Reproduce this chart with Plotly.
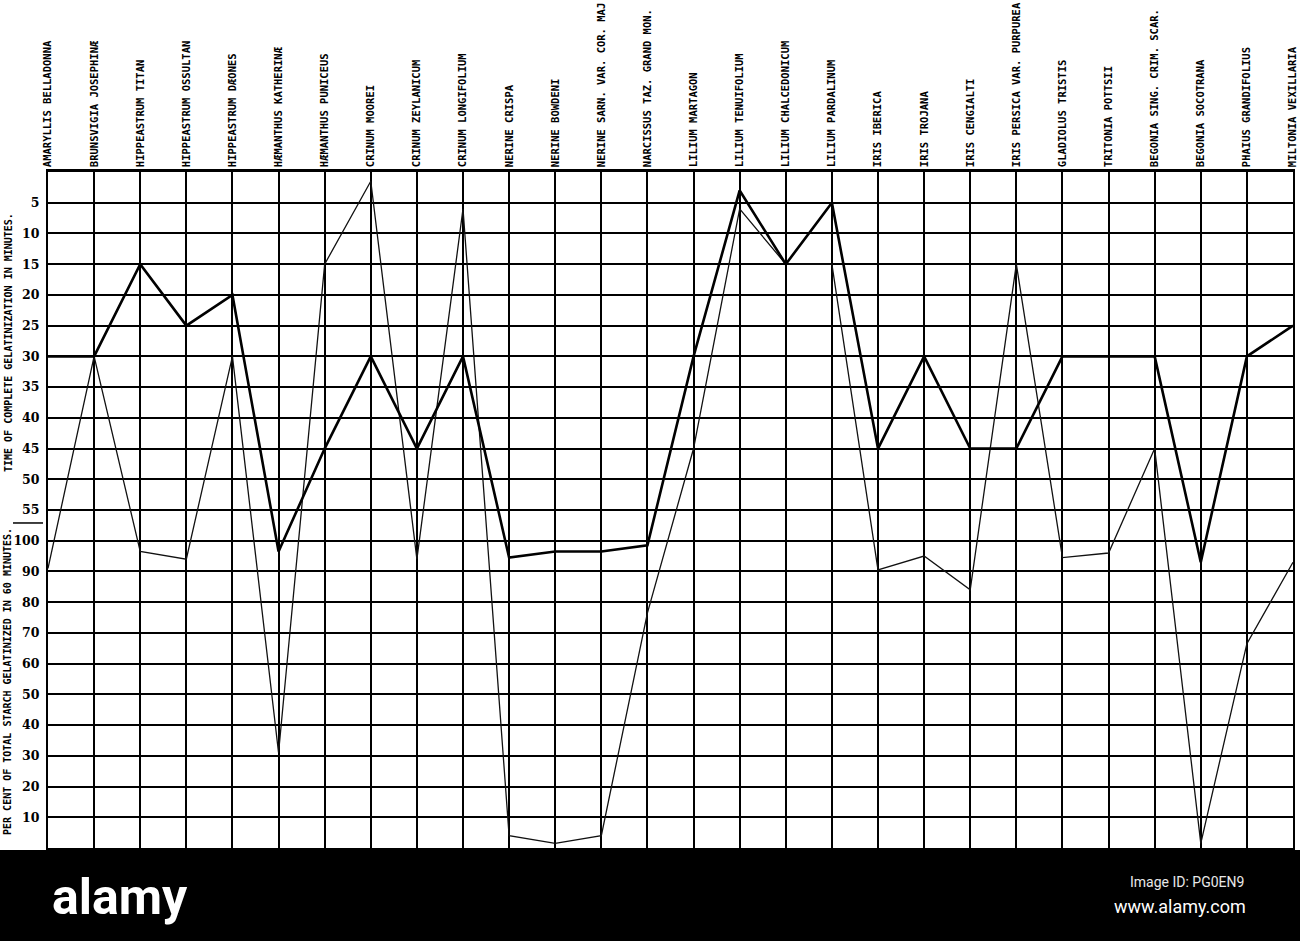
import plotly.graph_objects as go

species = [
    "AMARYLLIS BELLADONNA", "BRUNSVIGIA JOSEPHINÆ", "HIPPEASTRUM TITAN",
    "HIPPEASTRUM OSSULTAN", "HIPPEASTRUM DÆONES", "HÆMANTHUS KATHERINÆ",
    "HÆMANTHUS PUNICEUS", "CRINUM MOOREI", "CRINUM ZEYLANICUM",
    "CRINUM LONGIFOLIUM", "NERINE CRISPA", "NERINE BOWDENI",
    "NERINE SARN. VAR. COR. MAJ", "NARCISSUS TAZ. GRAND MON.", "LILIUM MARTAGON",
    "LILIUM TENUIFOLIUM", "LILIUM CHALCEDONICUM", "LILIUM PARDALINUM",
    "IRIS IBERICA", "IRIS TROJANA", "IRIS CENGIALTI",
    "IRIS PERSICA VAR. PURPUREA", "GLADIOLUS TRISTIS", "TRITONIA POTTSII",
    "BEGONIA SING. CRIM. SCAR.", "BEGONIA SOCOTRANA", "PHAIUS GRANDIFOLIUS",
    "MILTONIA VEXILLARIA",
]

# Heavy curve: minutes to complete gelatinization, or per cent gelatinized in 60 min
heavy_minutes = [30, 30, 15, 25, 20, None, 45, 30, 45, 30, None, None, None, None,
                 30, 3, 15, 5, 45, 30, 45, 45, 30, 30, 30, None, 30, 25]
heavy_percent = [None, None, None, None, None, 96.5, None, None, None, None, 94.5, 96.5, 96.5, 98.5,
                 None, None, None, None, None, None, None, None, None, None, None, 93, None, None]

# Light curve
light_minutes = [None, 30, None, None, 30, None, 15, 1.5, None, 6, None, None, None, None,
                 45, 6, 15, 15, None, None, None, 15, None, None, 45, None, None, None]
light_percent = [91, None, 96.5, 94, None, 31, None, None, 94, None, 4, 1.5, 4, 76.5,
                 None, None, None, None, 90.5, 95, 84, None, 94.5, 96, None, 1.5, 66.5, 93]

minute_ticks = [5, 10, 15, 20, 25, 30, 35, 40, 45, 50, 55]
percent_ticks = [100, 90, 80, 70, 60, 50, 40, 30, 20, 10]

# Combined scale of the original sheet: one grid row = 5 minutes (top part),
# one grid row = 10 per cent (bottom part), the 100 % row sits one row below 55 min.
MIN_PER_ROW = 5
PCT_PER_ROW = 10
PCT_100_ROW = 12
TOTAL_ROWS = 22


def sheet_y(minutes=None, percent=None):
    if minutes is not None:
        return minutes / MIN_PER_ROW
    return PCT_100_ROW + (100 - percent) / PCT_PER_ROW


def curve(mins, pcts):
    return [sheet_y(m, p) for m, p in zip(mins, pcts)]


fig = go.Figure()
fig.add_trace(go.Scatter(x=species, y=curve(light_minutes, light_percent), mode="lines",
                         line=dict(color="#111", width=1.3), showlegend=False))
fig.add_trace(go.Scatter(x=species, y=curve(heavy_minutes, heavy_percent), mode="lines",
                         line=dict(color="#000", width=2.6), showlegend=False))

tickvals = [sheet_y(minutes=m) for m in minute_ticks] + [sheet_y(percent=p) for p in percent_ticks]
ticktext = [str(m) for m in minute_ticks] + [str(p) for p in percent_ticks]

mono = "DejaVu Sans Mono"

fig.update_layout(
    width=1300, height=941,
    margin=dict(l=48, r=7, t=172, b=93),
    paper_bgcolor="white", plot_bgcolor="white",
    xaxis=dict(
        type="category", range=[0, len(species) - 1], side="top", tickangle=-90,
        showgrid=True, gridcolor="black", gridwidth=2,
        showline=True, mirror=True, linecolor="black", linewidth=2.5,
        ticks="", zeroline=False, automargin=False,
        tickfont=dict(family=mono, size=10.5, color="black", weight="bold"),
    ),
    yaxis=dict(
        range=[TOTAL_ROWS, 0], tickvals=tickvals, ticktext=ticktext,
        showgrid=True, gridcolor="black", gridwidth=2,
        showline=True, mirror=True, linecolor="black", linewidth=2,
        ticks="", zeroline=False, ticklabelstandoff=4, automargin=False,
        tickfont=dict(family="DejaVu Serif", size=12.5, color="black", weight="bold"),
    ),
    shapes=[
        dict(type="line", xref="paper", yref="paper", x0=-0.0281, x1=-0.004,
             y0=0.4808, y1=0.4808, line=dict(color="black", width=1.5)),
        dict(type="rect", xref="paper", yref="paper", x0=-0.05, x1=1.01,
             y0=-0.2, y1=-0.003, fillcolor="black", line=dict(width=0), layer="above"),
    ],
    annotations=[
        dict(text="TIME OF COMPLETE GELATINIZATION IN MINUTES.", xref="paper", yref="paper",
             x=0, y=0.747, xshift=-40, xanchor="center", yanchor="middle",
             textangle=-90, showarrow=False,
             font=dict(family=mono, size=10, color="black", weight="bold")),
        dict(text="PER CENT OF TOTAL STARCH GELATINIZED IN 60 MINUTES.", xref="paper", yref="paper",
             x=0, y=0.2456, xshift=-40, xanchor="center", yanchor="middle",
             textangle=-90, showarrow=False,
             font=dict(family=mono, size=10, color="black", weight="bold")),
        dict(text="alamy", xref="paper", yref="paper", x=0.0016, y=-0.0725,
             xanchor="left", yanchor="middle", showarrow=False,
             font=dict(family="Roboto", size=50, color="white", weight="bold")),
        dict(text="Image ID: PG0EN9", xref="paper", yref="paper", x=0.9626, y=-0.051,
             xanchor="right", yanchor="middle", showarrow=False,
             font=dict(family="Roboto", size=14, color="#e8e8e8")),
        dict(text="www.alamy.com", xref="paper", yref="paper", x=0.9642, y=-0.087,
             xanchor="right", yanchor="middle", showarrow=False,
             font=dict(family="Roboto", size=18, color="white")),
    ],
)

fig.write_html(
    "out.html",
    config={"displayModeBar": False},
    post_script="document.body.style.margin='0';document.body.style.overflow='hidden';",
)
